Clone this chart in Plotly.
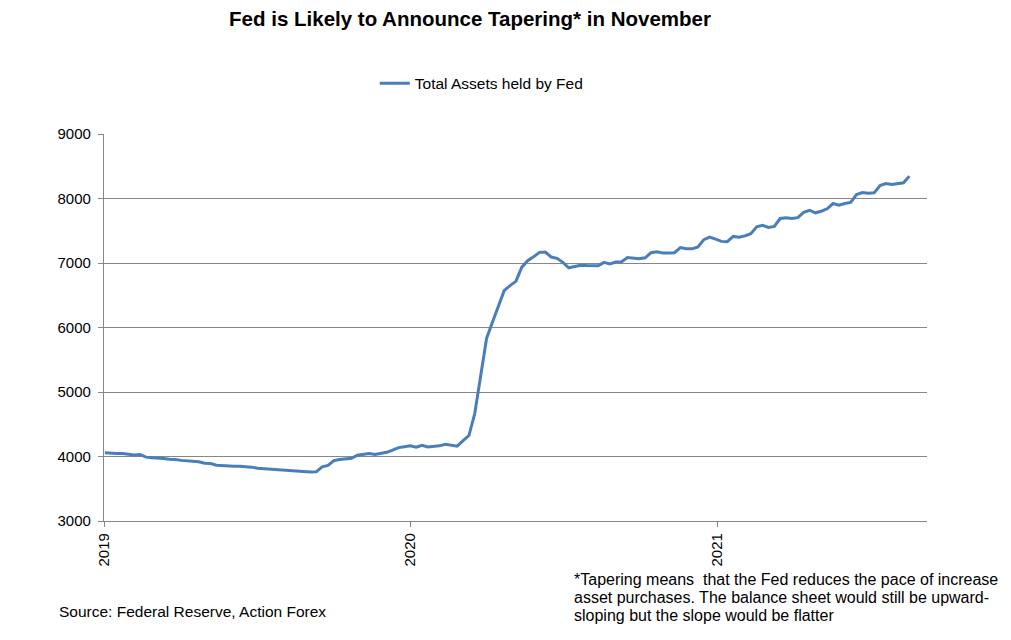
import pandas as pd
import plotly.graph_objects as go

# Weekly (Wednesday) dates, Jan 2 2019 to Aug 18 2021
dates = pd.date_range("2019-01-02", "2021-08-18", freq="7D")

assets_2019 = [
    4058, 4048, 4048, 4046, 4030, 4022, 4032, 3990, 3980, 3978,
    3970, 3958, 3955, 3940, 3936, 3930, 3917, 3895, 3890, 3865,
    3858, 3848, 3848, 3848, 3845, 3835, 3818, 3812, 3800, 3795,
    3785, 3785, 3782, 3770, 3760, 3758, 3762, 3840, 3862, 3935,
    3955, 3965, 3972, 4020, 4035, 4048, 4032, 4050, 4065, 4098,
    4138, 4152,
]
assets_2020 = [
    4165, 4145, 4175, 4148, 4155, 4165, 4190, 4180, 4160, 4245,
    4325, 4670, 5250, 5830, 6080, 6330, 6570, 6650, 6715, 6935,
    7035, 7095, 7165, 7170, 7093, 7072, 7010, 6925, 6950, 6965,
    6960, 6958, 6958, 7010, 6985, 7015, 7020, 7085, 7070, 7065,
    7080, 7160, 7175, 7155, 7155, 7160, 7240, 7220, 7220, 7250,
    7362, 7400, 7370,
]
assets_2021 = [
    7335, 7330, 7412, 7398, 7420, 7455, 7560, 7585, 7550, 7568,
    7690, 7703, 7690, 7703, 7786, 7818, 7778, 7803, 7840, 7922,
    7897, 7922, 7940, 8062, 8093, 8083, 8088, 8202, 8233, 8217,
    8228, 8243, 8347,
]
total_assets = assets_2019 + assets_2020 + assets_2021

year_ticks = ["2019-01-01", "2020-01-01", "2021-01-01"]
year_labels = ["2019", "2020", "2021"]
y_ticks = [3000, 4000, 5000, 6000, 7000, 8000, 9000]

title_text = "<b>Fed is Likely to Announce Tapering* in November</b>"
source_text = "Source: Federal Reserve, Action Forex"
note_lines = [
    "*Tapering means  that the Fed reduces the pace of increase",
    "asset purchases. The balance sheet would still be upward-",
    "sloping but the slope would be flatter",
]

FONT = "Liberation Sans, Arial, sans-serif"
GRID = "#878787"

fig = go.Figure()
fig.add_trace(go.Scatter(
    x=dates, y=total_assets, mode="lines",
    name="Total Assets held by Fed",
    line=dict(color="#4A7EBB", width=3),
))

annotations = [
    dict(text=source_text, x=-0.057, y=-0.235, xref="paper", yref="paper",
         xanchor="left", yanchor="middle", showarrow=False,
         font=dict(family=FONT, size=15.5, color="black")),
]
for i, line in enumerate(note_lines):
    annotations.append(dict(
        text=line, x=0.5687, y=-0.152 - i * 18 / 387, xref="paper", yref="paper",
        xanchor="left", yanchor="middle", align="left", showarrow=False,
        font=dict(family=FONT, size=16, color="black")))

fig.update_layout(
    width=1011, height=640,
    paper_bgcolor="white", plot_bgcolor="white",
    margin=dict(l=96, r=92, t=126, b=127),
    font=dict(family=FONT, size=15, color="black"),
    title=dict(text=title_text, x=462 / 1011, xref="container", xanchor="center",
               y=1 - 11 / 640, yref="container", yanchor="middle",
               font=dict(family=FONT, size=20.5, color="black")),
    showlegend=True,
    legend=dict(orientation="h", x=0.329, xanchor="left", y=1.13, yanchor="middle",
                font=dict(family=FONT, size=15.5, color="black"),
                bgcolor="rgba(0,0,0,0)"),
    xaxis=dict(
        type="date", range=["2019-01-01", "2021-09-08"],
        tickmode="array", tickvals=year_ticks, ticktext=year_labels,
        tickangle=-90, ticks="outside", ticklen=5, tickcolor=GRID,
        showline=True, linecolor=GRID, linewidth=1.3,
        showgrid=False, zeroline=False,
        tickfont=dict(family=FONT, size=15, color="black"),
    ),
    yaxis=dict(
        range=[3000, 9000], tickmode="array", tickvals=y_ticks,
        ticks="outside", ticklen=5, tickcolor=GRID,
        showline=True, linecolor=GRID, linewidth=1.3,
        showgrid=True, gridcolor=GRID, gridwidth=1.3,
        zeroline=False, ticklabelstandoff=4,
        tickfont=dict(family=FONT, size=15, color="black"),
    ),
    annotations=annotations,
)

fig.write_html("out.html")
